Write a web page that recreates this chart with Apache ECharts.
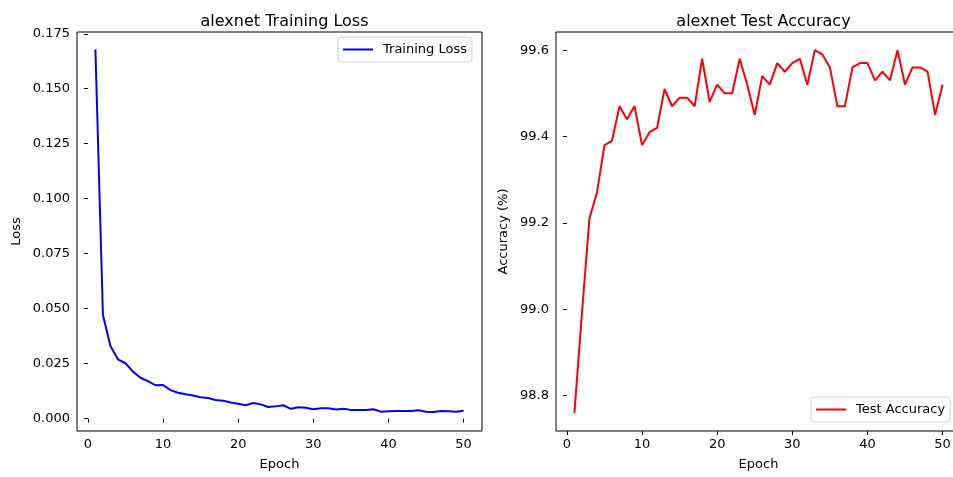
<!DOCTYPE html>
<html>
<head>
<meta charset="utf-8">
<script src="https://cdn.jsdelivr.net/npm/echarts@6/dist/echarts.min.js"></script>
<style>
  html, body { margin: 0; padding: 0; overflow: hidden; background: #fff; }
  #chart { width: 953px; height: 477px; }
</style>
</head>
<body>
<div id="chart"></div>
<script>
// epochs 1..50
const epochs = [
  1, 2, 3, 4, 5, 6, 7, 8, 9, 10,
  11, 12, 13, 14, 15, 16, 17, 18, 19, 20,
  21, 22, 23, 24, 25, 26, 27, 28, 29, 30,
  31, 32, 33, 34, 35, 36, 37, 38, 39, 40,
  41, 42, 43, 44, 45, 46, 47, 48, 49, 50
]

const trainLoss = [
  0.1679, 0.0471, 0.0330, 0.0270, 0.0252, 0.0214, 0.0186, 0.0171, 0.0152, 0.0153,
  0.0130, 0.0118, 0.0111, 0.0105, 0.0097, 0.0094, 0.0085, 0.0082, 0.0074, 0.0068,
  0.0061, 0.0071, 0.0065, 0.0053, 0.0056, 0.0061, 0.0045, 0.0052, 0.0050, 0.0043,
  0.0047, 0.0047, 0.0042, 0.0045, 0.0040, 0.0040, 0.0040, 0.0043, 0.0032, 0.0034,
  0.0035, 0.0035, 0.0035, 0.0038, 0.0032, 0.0030, 0.0035, 0.0034, 0.0032, 0.0036
]

const testAcc = [
  98.76, 98.99, 99.21, 99.27, 99.38, 99.39, 99.47, 99.44, 99.47, 99.38,
  99.41, 99.42, 99.51, 99.47, 99.49, 99.49, 99.47, 99.58, 99.48, 99.52,
  99.50, 99.50, 99.58, 99.52, 99.45, 99.54, 99.52, 99.57, 99.55, 99.57,
  99.58, 99.52, 99.60, 99.59, 99.56, 99.47, 99.47, 99.56, 99.57, 99.57,
  99.53, 99.55, 99.53, 99.60, 99.52, 99.56, 99.56, 99.55, 99.45, 99.52
]

// tick labels
const epochTicks = [0, 10, 20, 30, 40, 50]
const lossTicks = [0, 0.025, 0.05, 0.075, 0.1, 0.125, 0.15, 0.175]
const accTicks = [98.8, 99.0, 99.2, 99.4, 99.6]

const FONT = 'DejaVu Sans'

const chart = echarts.init(document.getElementById('chart'))

// matplotlib-ish axis helpers
const xAxisCfg = (gridIndex) => ({
  type: 'value',
  gridIndex,
  min: -1.45,
  max: 52.45,
  name: 'Epoch',
  nameLocation: 'middle',
  nameGap: 27,
  nameTextStyle: { color: '#000', fontSize: 13, fontFamily: FONT },
  axisLine: { show: false },
  splitLine: { show: false },
  axisTick: { show: true, inside: false, length: 4, customValues: epochTicks, lineStyle: { color: '#000', width: 1 } },
  axisLabel: { customValues: epochTicks, margin: 7, color: '#000', fontSize: 13, fontFamily: FONT }
})

const yAxisCfg = (gridIndex, name, min, max, ticks, digits, gap) => ({
  type: 'value',
  gridIndex,
  min,
  max,
  name,
  nameLocation: 'middle',
  nameGap: gap,
  nameTextStyle: { color: '#000', fontSize: 13, fontFamily: FONT },
  axisLine: { show: false },
  splitLine: { show: false },
  axisTick: { show: true, inside: false, length: 4, customValues: ticks, lineStyle: { color: '#000', width: 1 } },
  axisLabel: {
    customValues: ticks,
    margin: 7,
    color: '#000',
    fontSize: 13,
    fontFamily: FONT,
    formatter: (v) => v.toFixed(digits)
  }
})

const legendCfg = (name, left, top) => ({
  data: [name],
  left,
  top,
  orient: 'vertical',
  icon: 'rect',
  itemWidth: 30,
  itemHeight: 2,
  padding: [6, 5, 6, 5],
  borderColor: '#d0d0d0',
  borderWidth: 1,
  borderRadius: 3,
  backgroundColor: 'rgba(255,255,255,0.8)',
  selectedMode: false,
  textStyle: { color: '#000', fontSize: 13, fontFamily: FONT, padding: [0, 0, 0, 5] }
})

const gridCfg = (left) => ({
  left,
  top: 32,
  width: 405,
  height: 399,
  outerBoundsMode: 'none', // don't squeeze the panel to fit the canvas
  show: true,
  borderColor: '#000',
  borderWidth: 1,
  backgroundColor: 'transparent'
})

const option = {
  animation: false,
  backgroundColor: '#fff',
  title: [
    {
      text: 'alexnet Training Loss',
      left: 279.5,
      top: 9,
      textAlign: 'center',
      textStyle: { color: '#000', fontSize: 16, fontWeight: 'normal', fontFamily: FONT }
    },
    {
      text: 'alexnet Test Accuracy',
      left: 758.5,
      top: 9,
      textAlign: 'center',
      textStyle: { color: '#000', fontSize: 16, fontWeight: 'normal', fontFamily: FONT }
    }
  ],
  // the right panel runs a little past the picture's right edge, as in the original
  grid: [gridCfg(77), gridCfg(556)],
  legend: [
    legendCfg('Training Loss', 338, 37),
    legendCfg('Test Accuracy', 811, 397)
  ],
  xAxis: [xAxisCfg(0), xAxisCfg(1)],
  yAxis: [
    yAxisCfg(0, 'Loss', -0.0056, 0.1758, lossTicks, 3, 54),
    yAxisCfg(1, 'Accuracy (%)', 98.718, 99.642, accTicks, 1, 46)
  ],
  series: [
    {
      name: 'Training Loss',
      type: 'line',
      xAxisIndex: 0,
      yAxisIndex: 0,
      data: epochs.map((e, i) => [e, trainLoss[i]]),
      showSymbol: false,
      itemStyle: { color: '#0000ff' },
      lineStyle: { color: '#0000ff', width: 2 }
    },
    {
      name: 'Test Accuracy',
      type: 'line',
      xAxisIndex: 1,
      yAxisIndex: 1,
      data: epochs.map((e, i) => [e, testAcc[i]]),
      showSymbol: false,
      itemStyle: { color: '#ff0000' },
      lineStyle: { color: '#ff0000', width: 2 }
    }
  ]
}

chart.setOption(option)
</script>
</body>
</html>
